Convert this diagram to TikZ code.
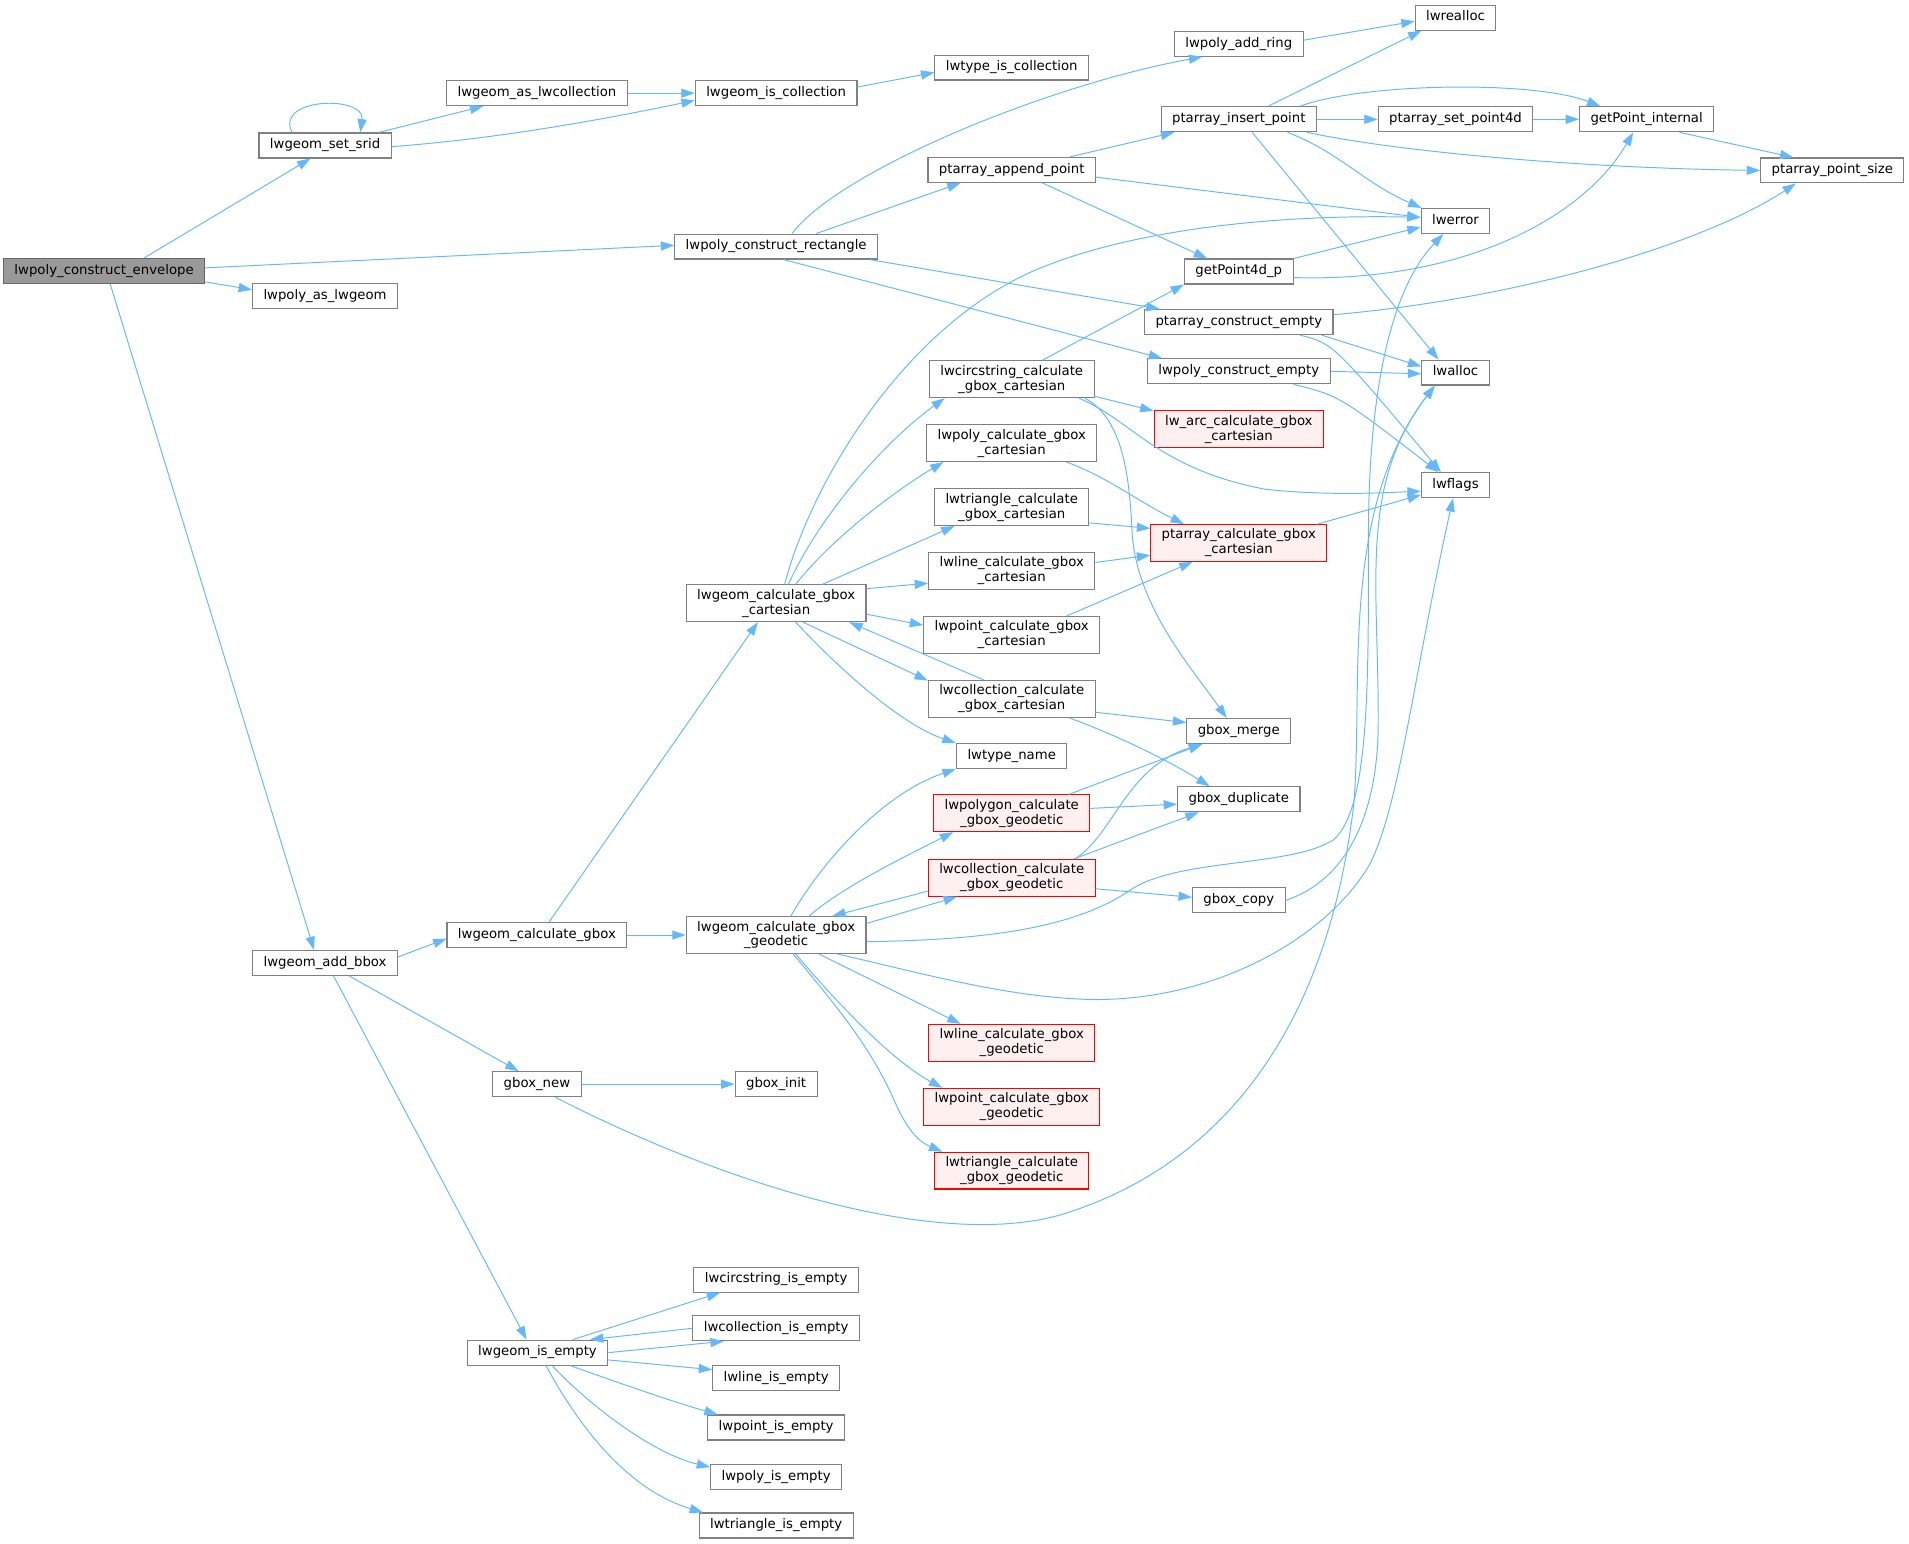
\documentclass[tikz,border=0pt]{standalone}
\usepackage{fontspec}
\setmainfont{DejaVu Sans}
\usetikzlibrary{arrows.meta}
\definecolor{edgec}{HTML}{63B8FF}
\definecolor{bordc}{HTML}{808080}
\definecolor{rootf}{HTML}{999999}
\definecolor{rootb}{HTML}{666666}
\definecolor{redf}{HTML}{FFF0F0}
\definecolor{redb}{HTML}{FF0000}
\begin{document}
\begin{tikzpicture}[x=1pt,y=-1pt,
  box/.style={draw=bordc, fill=white, line width=0.9pt, inner xsep=9pt, inner ysep=3.5pt,
    minimum height=20.5pt, align=center, font=\fontsize{10.9}{12.3}\selectfont},
  b1/.style={box, text height=8pt, text depth=2.5pt},
  b2/.style={box},
  root/.style={fill=rootf, draw=rootb},
  hot/.style={fill=redf, draw=redb},
  cl/.style={draw=edgec, line width=0.8pt, -{Triangle[length=11pt,width=7.5pt]}}
]
\useasboundingbox (0,0) rectangle (1568,1268);

% rank 1-3
\node[b1,root] (env) at (85.5,222.5) {lwpoly\_construct\_envelope};
\node[b1] (srid) at (267,119.5) {lwgeom\_set\_srid};
\node[b1] (asgeom) at (267,243) {lwpoly\_as\_lwgeom};
\node[b1] (bbox) at (267,791) {lwgeom\_add\_bbox};
\node[b1] (aslwcoll) at (441,76.5) {lwgeom\_as\_lwcollection};
\node[b1] (calcgbox) at (441,768) {lwgeom\_calculate\_gbox};
\node[b1] (gnew) at (441,890.5) {gbox\_new};
\node[b1] (isempty) at (441.5,1111) {lwgeom\_is\_empty};
% rank 4
\node[b1] (iscoll) at (637.5,76.5) {lwgeom\_is\_collection};
\node[b1] (rect) at (637.5,202.5) {lwpoly\_construct\_rectangle};
\node[b2] (geocart) at (637.5,495.5) {lwgeom\_calculate\_gbox\\\_cartesian};
\node[b2] (geogeo) at (637.5,768) {lwgeom\_calculate\_gbox\\\_geodetic};
\node[b1] (ginit) at (637.5,890.5) {gbox\_init};
\node[b1] (circempty) at (637.5,1051) {lwcircstring\_is\_empty};
\node[b1] (collempty) at (637.5,1091) {lwcollection\_is\_empty};
\node[b1] (lineempty) at (637.5,1132) {lwline\_is\_empty};
\node[b1] (ptempty) at (637.5,1172.5) {lwpoint\_is\_empty};
\node[b1] (polyempty) at (637.5,1213) {lwpoly\_is\_empty};
\node[b1] (triempty) at (637.5,1253) {lwtriangle\_is\_empty};
% rank 5
\node[b1] (typeiscoll) at (831,55.5) {lwtype\_is\_collection};
\node[b1] (append) at (831,139.5) {ptarray\_append\_point};
\node[b2] (circ) at (831,311.5) {lwcircstring\_calculate\\\_gbox\_cartesian};
\node[b2] (polycart) at (831,364) {lwpoly\_calculate\_gbox\\\_cartesian};
\node[b2] (tricart) at (831,416.5) {lwtriangle\_calculate\\\_gbox\_cartesian};
\node[b2] (linecart) at (831,469) {lwline\_calculate\_gbox\\\_cartesian};
\node[b2] (ptcart) at (831,521.5) {lwpoint\_calculate\_gbox\\\_cartesian};
\node[b2] (collcart) at (831,574) {lwcollection\_calculate\\\_gbox\_cartesian};
\node[b1] (typename) at (831,621) {lwtype\_name};
\node[b2,hot] (polygeo) at (831,668) {lwpolygon\_calculate\\\_gbox\_geodetic};
\node[b2,hot] (collgeo) at (831,721) {lwcollection\_calculate\\\_gbox\_geodetic};
\node[b2,hot] (linegeo) at (831,856.5) {lwline\_calculate\_gbox\\\_geodetic};
\node[b2,hot] (ptgeo) at (831,909) {lwpoint\_calculate\_gbox\\\_geodetic};
\node[b2,hot] (trigeo) at (831,961.5) {lwtriangle\_calculate\\\_gbox\_geodetic};
% rank 6
\node[b1] (addring) at (1017.5,36) {lwpoly\_add\_ring};
\node[b1] (insert) at (1017.5,98) {ptarray\_insert\_point};
\node[b1] (gp4d) at (1017.5,223) {getPoint4d\_p};
\node[b1] (pcempty) at (1017.5,264.5) {ptarray\_construct\_empty};
\node[b1] (lpcempty) at (1017.5,305) {lwpoly\_construct\_empty};
\node[b2,hot] (arc) at (1017.5,352.5) {lw\_arc\_calculate\_gbox\\\_cartesian};
\node[b2,hot] (ptcalc) at (1017.5,446) {ptarray\_calculate\_gbox\\\_cartesian};
\node[b1] (merge) at (1017.5,600.5) {gbox\_merge};
\node[b1] (dup) at (1017.5,656.5) {gbox\_duplicate};
\node[b1] (gcopy) at (1017.5,739.5) {gbox\_copy};
% rank 7-9
\node[b1] (realloc) at (1195.5,14.5) {lwrealloc};
\node[b1] (setp4d) at (1195.5,98) {ptarray\_set\_point4d};
\node[b1] (lwerror) at (1195.5,181.5) {lwerror};
\node[b1] (lwalloc) at (1195.5,306) {lwalloc};
\node[b1] (lwflags) at (1195.5,398.5) {lwflags};
\node[b1] (getint) at (1352.5,98) {getPoint\_internal};
\node[b1] (psize) at (1505,140) {ptarray\_point\_size};

% ---- edges ----
\draw[cl] ([xshift=33]env.north) -- ([xshift=-12]srid.south);
\draw[cl] ([yshift=2.5]env.east) -- ([yshift=1]rect.west);
\draw[cl] ([yshift=-9]env.east) -- ([yshift=5]asgeom.west);
\draw[cl] ([xshift=5]env.south) -- ([xshift=-9]bbox.north);
\draw[cl] ([xshift=-27]srid.north) .. controls (225,80) and (300,78) .. ([xshift=29]srid.north);
\draw[cl] ([xshift=44]srid.north) -- ([xshift=-44]aslwcoll.south);
\draw[cl] ([yshift=-1]srid.east) .. controls (420,113) and (510,95) .. ([yshift=-6]iscoll.west);
\draw[cl] (aslwcoll.east) -- (iscoll.west);
\draw[cl] ([yshift=5]iscoll.east) -- ([yshift=-4]typeiscoll.west);

\draw[cl] ([xshift=13]rect.north) .. controls (690,140) and (860,70) .. ([xshift=-30]addring.south);
\draw[cl] ([xshift=33]rect.north) -- ([xshift=-42]append.south);
\draw[cl] ([xshift=-7]rect.south east) -- ([xshift=-65]pcempty.north);
\draw[cl] ([xshift=6]rect.south) -- ([xshift=-63]lpcempty.north);

\draw[cl] ([yshift=3]addring.east) -- ([yshift=-3]realloc.west);
\draw[cl] ([xshift=24]insert.north) -- ([xshift=-28]realloc.south);
\draw[cl] (insert.east) -- (setp4d.west);
\draw[cl] ([xshift=50]insert.north) .. controls (1120,68) and (1260,66) .. ([xshift=-38]getint.north);
\draw[cl] ([xshift=56]insert.south) .. controls (1150,125) and (1300,138) .. (psize.west);
\draw[cl] ([xshift=40]insert.south) .. controls (1100,125) and (1120,150) .. ([xshift=-28]lwerror.north);
\draw[cl] ([xshift=11]insert.south) -- ([xshift=-14]lwerror.north |- lwalloc.north);
\draw[cl] (setp4d.east) -- (getint.west);
\draw[cl] ([xshift=27]getint.south) -- ([xshift=-32]psize.north);

\draw[cl] ([xshift=48]append.north) -- ([xshift=-53]insert.south);
\draw[cl] ([yshift=-6]append.east) -- ([yshift=3]lwerror.west);
\draw[cl] ([xshift=25]append.south) -- ([xshift=-26]gp4d.north);
\draw[cl] (gp4d.north east) -- ([yshift=-5]lwerror.west);
\draw[cl] ([yshift=-5]gp4d.east) .. controls (1200,232) and (1300,180) .. ([xshift=-11]getint.south);

\draw[cl] ([yshift=6]pcempty.east) .. controls (1250,245) and (1400,200) .. ([xshift=-30]psize.south);
\draw[cl] ([xshift=-10]pcempty.south east) -- ([yshift=5]lwalloc.west);
\draw[cl] ([xshift=50]pcempty.south) .. controls (1095,282) .. ([xshift=-12]lwflags.north);
\draw[cl] (lpcempty.east) -- ([yshift=-1]lwalloc.west);
\draw[cl] ([xshift=45]lpcempty.south) .. controls (1100,325) .. ([xshift=-14]lwflags.north);

\draw[cl] ([xshift=25]circ.north) -- (gp4d.south west);
\draw[cl] ([yshift=-14]circ.east) -- ([yshift=15]arc.west);
\draw[cl] ([xshift=55]circ.south) .. controls (930,345) and (950,385) .. (1040,402) .. controls (1090,407) and (1130,405) .. ([yshift=-5]lwflags.west);
\draw[cl] ([xshift=60]circ.south) .. controls (925,345) and (928,400) .. (930,440) .. controls (935,500) and (980,550) .. ([xshift=-10]merge.north);

\draw[cl] ([xshift=45]polycart.south) .. controls (910,392) and (935,412) .. ([xshift=-45]ptcalc.north);
\draw[cl] ([yshift=-13]tricart.east) -- ([yshift=12]ptcalc.west);
\draw[cl] ([yshift=7]linecart.east) -- ([yshift=-10]ptcalc.west);
\draw[cl] ([xshift=45]ptcart.north) -- ([xshift=-38]ptcalc.south);
\draw[cl] ([xshift=-8]ptcalc.north east) -- ([yshift=-8]lwflags.west);

\draw[cl] ([xshift=7]geocart.north) .. controls (665,400) and (740,270) .. (850,222) .. controls (930,188) and (1050,176) .. ([yshift=3]lwerror.west);
\draw[cl] ([xshift=10]geocart.north) .. controls (675,420) and (730,360) .. ([xshift=-55]circ.south);
\draw[cl] ([xshift=16]geocart.north) .. controls (685,440) and (740,400) .. ([xshift=-56]polycart.south);
\draw[cl] ([xshift=38]geocart.north) -- ([xshift=-47]tricart.south);
\draw[cl] ([yshift=12]geocart.east) -- ([yshift=-10]linecart.west);
\draw[cl] ([yshift=-9]geocart.east) -- ([yshift=8]ptcart.west);
\draw[cl] ([xshift=22]geocart.south) -- ([yshift=15]collcart.west);
\draw[cl] ([xshift=-23]collcart.north) -- ([xshift=60]geocart.south);
\draw[cl] ([xshift=16]geocart.south) .. controls (690,550) and (740,595) .. ([xshift=-46]typename.north);
\draw[cl] ([yshift=-11]collcart.east) -- ([yshift=7]merge.west);
\draw[cl] ([xshift=47]collcart.south) .. controls (920,605) and (960,625) .. ([xshift=-24]dup.north);

\draw[cl] ([xshift=47]polygeo.north) -- ([xshift=-30]merge.south);
\draw[cl] ([yshift=4]polygeo.east) -- ([yshift=-4]dup.west);
\draw[cl] ([xshift=52]collgeo.north) .. controls (915,685) and (925,630) .. ([xshift=-30]merge.south);
\draw[cl] ([xshift=51]collgeo.north) -- ([xshift=-33]dup.south);
\draw[cl] ([yshift=-9]collgeo.east) -- ([yshift=2.5]gcopy.west);
\draw[cl] ([yshift=-11]collgeo.west) -- ([xshift=46]geogeo.north);
\draw[cl] ([yshift=9.5]geogeo.east) -- ([xshift=-45]collgeo.south);
\draw[cl] ([xshift=27]geogeo.north) .. controls (690,730) and (740,705) .. ([xshift=-48]polygeo.south);
\draw[cl] ([xshift=12]geogeo.north) .. controls (680,700) and (730,650) .. ([xshift=-46]typename.south);
\draw[cl] ([yshift=-5.5]geogeo.east) .. controls (800,772) and (880,765) .. (930,730) .. controls (970,705) and (1060,712) .. (1095,690) .. controls (1125,665) and (1124,560) .. (1124,440) .. controls (1124,330) and (1140,240) .. ([xshift=-10]lwerror.south);
\draw[cl] ([xshift=50]geogeo.south) .. controls (760,800) and (830,820) .. (900,821) .. controls (1000,821) and (1090,770) .. (1125,710) .. controls (1150,660) and (1160,560) .. ([xshift=-2]lwflags.south);
\draw[cl] ([xshift=35]geogeo.south) -- ([xshift=-42]linegeo.north);
\draw[cl] ([xshift=16]geogeo.south) .. controls (680,815) and (730,870) .. ([xshift=-57]ptgeo.north);
\draw[cl] ([xshift=14]geogeo.south) .. controls (690,830) and (715,860) .. (735,905) .. controls (745,928) and (755,938) .. ([xshift=-57]trigeo.north);

\draw[cl] (gcopy.east) .. controls (1100,725) and (1130,680) .. (1132,600) .. controls (1133,480) and (1115,400) .. ([xshift=-17]lwalloc.south);
\draw[cl] ([xshift=15]gnew.south) .. controls (600,975) and (780,1030) .. (880,995) .. controls (1000,955) and (1090,850) .. (1112,660) .. controls (1120,560) and (1100,420) .. ([xshift=-17]lwalloc.south);

\draw[cl] ([xshift=10]calcgbox.north) -- ([xshift=-15]geocart.south);
\draw[cl] (calcgbox.east) -- (geogeo.west);
\draw[cl] ([yshift=5]bbox.east) -- ([yshift=-3]calcgbox.west);
\draw[cl] ([xshift=20]bbox.south) -- ([xshift=-15]gnew.north);
\draw[cl] ([xshift=7]bbox.south) -- ([xshift=-9]isempty.north);
\draw[cl] (gnew.east) -- (ginit.west);

\draw[cl] ([xshift=29]isempty.north) -- ([xshift=-46]circempty.south);
\draw[cl] (collempty.west) -- ([xshift=43]isempty.north);
\draw[cl] (isempty.east) -- ([xshift=-43]collempty.south);
\draw[cl] ([yshift=-6]isempty.east) -- ([yshift=7]lineempty.west);
\draw[cl] ([xshift=27]isempty.south) .. controls (520,1140) and (555,1152) .. ([xshift=-48]ptempty.north);
\draw[cl] ([xshift=12]isempty.south) .. controls (490,1160) and (540,1195) .. ([yshift=8]polyempty.west);
\draw[cl] ([xshift=7]isempty.south) .. controls (480,1180) and (520,1225) .. ([xshift=-60]triempty.north);
\end{tikzpicture}
\end{document}
